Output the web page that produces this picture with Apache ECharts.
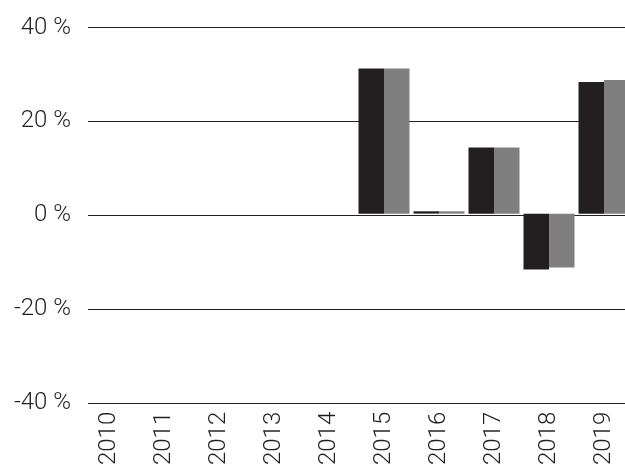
<!DOCTYPE html>
<html>
<head>
<meta charset="utf-8">
<script src="https://cdn.jsdelivr.net/npm/echarts@6/dist/echarts.min.js"></script>
<style>html,body{margin:0;padding:0;background:#fff;overflow:hidden}#c{width:650px;height:468px}</style>
</head>
<body>
<div id="c"></div>
<script>
var categories = ['2010','2011','2012','2013','2014','2015','2016','2017','2018','2019'];
var seriesA = [null,null,null,null,null,31.2,0.5,14.2,-12.0,28.3];
var seriesB = [null,null,null,null,null,31.2,0.5,14.2,-11.6,28.7];
var yMin = -40, yMax = 40, yStep = 20;

var font = 'Roboto, Liberation Sans, Arial, sans-serif';
var chart = echarts.init(document.getElementById('c'), null, {renderer:'canvas'});
chart.setOption({
  animation: false,
  backgroundColor: '#fff',
  grid: [
    {left: 81.5, width: 550, top: 27.5, height: 375.5},
    {left: 88, width: 560, top: 27.5, height: 375.5}
  ],
  xAxis: [
    {type:'category', gridIndex:0, data: categories,
     axisLine:{show:false}, axisTick:{show:false},
     axisLabel:{rotate:90, margin:12, fontSize:24, fontWeight:300, fontFamily:font, color:'#231f20'}},
    {type:'value', gridIndex:1, show:false, min:0, max:1}
  ],
  yAxis: [
    {type:'value', gridIndex:0, min:yMin, max:yMax, interval:yStep, show:false},
    {type:'value', gridIndex:1, min:yMin, max:yMax, interval:yStep,
     axisLine:{show:false}, axisTick:{show:false},
     axisLabel:{formatter:'{value} %', margin:17, fontSize:24, fontWeight:300, fontFamily:font, color:'#231f20'},
     splitLine:{lineStyle:{color:'#231f20', width:1.2}}}
  ],
  series: [
    {type:'bar', xAxisIndex:0, yAxisIndex:0, data: seriesA, barWidth:25.5, barGap:'0%',
     itemStyle:{color:'#231f20'}},
    {type:'bar', xAxisIndex:0, yAxisIndex:0, data: seriesB, barWidth:25.5, barGap:'0%',
     itemStyle:{color:'#7f7f7f'}}
  ]
});
</script>
</body>
</html>
